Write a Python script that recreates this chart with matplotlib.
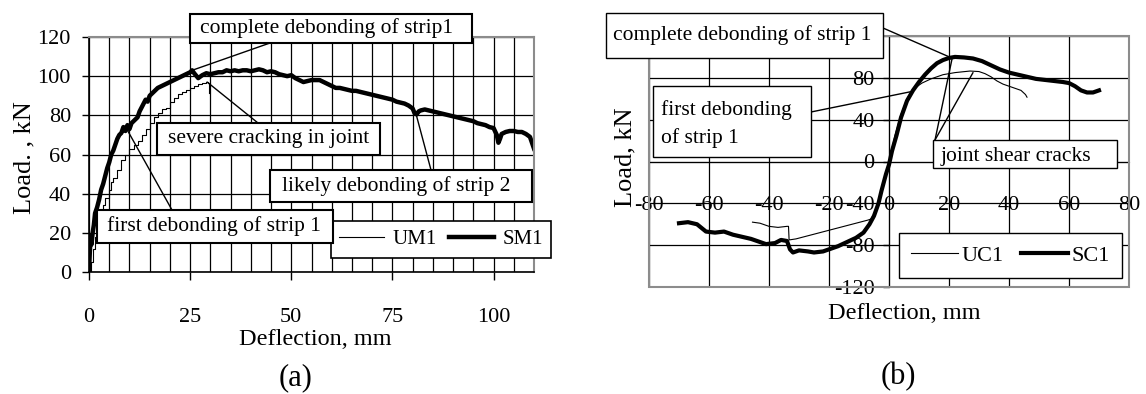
import matplotlib
matplotlib.use('Agg')
import matplotlib.pyplot as plt
from matplotlib.patches import Rectangle
from matplotlib.ticker import MultipleLocator

plt.rcParams['font.family'] = ['Liberation Serif', 'DejaVu Serif']
plt.rcParams['axes.unicode_minus'] = False

# (a) monotonic tests: deflection (mm) vs load (kN)
um1_defl = [0, 0.5, 1.0, 1.5, 2.0, 2.5, 3.0, 3.5, 4.0, 5.0, 5.5, 6.0, 7.0, 8.0, 9.0, 10.0,
            11.0, 12.0, 13.0, 14.0, 15.0, 16.0, 17.0, 18.0, 19.0, 20.0, 21.0, 22.0, 23.0,
            24.0, 25.0, 26.0, 27.0, 28.0, 29.0, 29.5, 29.6, 29.7]
um1_load = [0, 5, 12, 18, 22, 27, 30, 34, 38, 42, 46, 48, 52, 57, 60, 63,
            65, 67, 70, 73, 76, 79, 81, 83, 84, 87, 89, 91, 92,
            93, 94, 95, 96, 96.5, 97, 96.5, 92, 91.5]

sm1_defl = [0, 0.2, 0.4, 0.6, 0.9, 1.2, 1.5, 2.0, 2.5, 3.0, 3.5, 4.0, 4.5, 5.0, 5.5, 6.0,
            6.5, 7.0, 7.5, 8.0, 8.5, 9.0, 9.5, 10.0, 10.5, 11.0, 12.0, 12.5, 13.0, 13.5,
            14.0, 14.5, 15.0, 16.0, 17.0, 18.0, 19.0, 20.0, 21.0, 22.0, 23.0, 24.0, 25.0,
            25.5, 26.0, 27.0, 28.0, 29.0, 30.0, 31.0, 32.0, 33.0, 34.0, 35.0, 36.0, 37.0,
            38.0, 39.0, 40.0, 41.0, 42.0, 43.0, 44.0, 45.0, 46.0, 47.0, 48.0, 49.0, 50.0,
            51.0, 52.0, 53.0, 54.0, 55.0, 56.0, 57.0, 58.0, 59.0, 60.0, 61.0, 62.0, 63.0,
            64.0, 65.0, 66.0, 67.0, 68.0, 69.0, 70.0, 71.0, 72.0, 73.0, 74.0, 75.0, 76.0,
            77.0, 78.0, 79.0, 80.0, 80.5, 81.0, 81.5, 82.0, 83.0, 84.0, 85.0, 86.0, 87.0,
            88.0, 89.0, 90.0, 91.0, 92.0, 93.0, 94.0, 95.0, 96.0, 97.0, 98.0, 99.0, 100.0,
            100.8, 101.2, 101.6, 102.0, 103.0, 104.0, 105.0, 106.0, 107.0, 108.0, 109.0,
            109.5, 110.0]
sm1_load = [0, 10, 18, 14, 20, 24, 30, 33, 37, 42, 45, 49, 53, 56, 60, 62,
            65, 68, 70, 71, 74, 72, 75, 73, 76, 77, 79, 82, 84, 86,
            88, 87, 90, 92, 94, 95, 96, 97, 98, 99, 100, 101, 102,
            103, 101.5, 99, 100.5, 101.5, 101, 101.5, 102, 102, 103, 102.5, 103, 102.5,
            103, 103, 102.5, 103, 103.5, 103, 102, 102.5, 102, 101, 100.5, 100, 100.5,
            99, 98, 97, 97.5, 98, 98, 98, 97, 96, 95, 94, 94, 93.5,
            93, 92.5, 92.5, 92, 91.5, 91, 90.5, 90, 89.5, 89, 88.5, 88, 87,
            86.5, 86, 85, 83.5, 81, 80.5, 82, 82.5, 83, 82.5, 82, 81.5, 81,
            80.5, 80, 79.5, 79, 78.5, 78, 77.5, 77, 76, 75.5, 75, 74, 73.5,
            70, 66, 68, 70.5, 71.5, 72, 72, 71.5, 71.5, 70.5, 69,
            66, 63]

# (b) cyclic tests
uc1_defl = [-45.5, -43, -40, -37, -34, -33.5, -33.3, -31, -7, -6, -4, -2, 0, 2, 4, 6, 8,
            11, 14, 18, 22, 27, 30, 32, 34, 36, 38, 41, 44, 45.5, 46]
uc1_load = [-58, -59, -62, -63, -62, -62, -75, -74, -56, -55, -45, -25, 0, 25, 45, 60, 69,
            75, 79, 83, 85, 86.5, 86, 84, 81, 77, 74, 71, 68, 64, 61.5]

sc1_defl = [-70, -67, -64, -61, -58, -55, -52, -49, -46, -43, -41, -38, -36, -34, -33, -32,
            -30, -27, -25, -22, -20, -17, -14, -11, -8.5, -6.5, -5, -3.5, -2.5, -1, 0, 1,
            2.5, 4, 6, 8, 10, 12, 14, 16, 18, 20, 22, 25, 28, 31, 34, 37, 40, 43, 46, 49,
            52, 55, 58, 60, 62, 64, 66, 68, 70]
sc1_load = [-59, -58, -60, -67, -68, -67, -70, -72, -74, -77, -79, -78, -75, -76, -84, -87,
            -85, -86, -87, -86, -84, -81, -77, -73, -68, -60, -52, -40, -28, -12, -3, 10,
            25, 42, 58, 68, 76, 83, 89, 94, 97, 99, 100, 99.5, 98.5, 96, 92, 88, 85, 83, 81, 79,
            78, 77, 76, 75, 72, 68, 66, 66, 68]

b_yticks = [-120, -80, -40, 0, 40, 80]

W, H = 1146, 394
fig = plt.figure(figsize=(W / 100, H / 100), dpi=100)


def px(x, y):
    # position measured on the reference (pixels, origin top left) -> figure fraction
    return x / W, 1 - y / H


def callout(ax, text, box, anchor, targets, tpos, lw=1.5, size=15.5, ha='center', **kw):
    x0, y0, x1, y1 = box
    fx0, fy1 = px(x0, y0)
    fx1, fy0 = px(x1, y1)
    for t in targets:
        ax.annotate('', xy=t, xycoords='data', xytext=px(*anchor), textcoords='figure fraction',
                    arrowprops=dict(arrowstyle='-', color='black', lw=1, shrinkA=0, shrinkB=0),
                    zorder=4, annotation_clip=False)
    ax.add_patch(Rectangle((fx0, fy0), fx1 - fx0, fy1 - fy0, transform=fig.transFigure,
                           fc='white', ec='black', lw=lw, zorder=6, clip_on=False))
    ax.text(*px(*tpos), text, transform=fig.transFigure, ha=ha, va='center',
            fontsize=size, zorder=7, **kw)


# ---- (a)
ax = fig.add_axes([89 / W, 1 - 272 / H, 445 / W, 235 / H])
ax.plot(um1_defl, um1_load, color='black', lw=0.8, drawstyle='steps-post', label='UM1')
ax.plot(sm1_defl, sm1_load, color='black', lw=3.2, label='SM1')
ax.set_xlim(0, 110)
ax.set_ylim(0, 120)
ax.xaxis.set_major_locator(MultipleLocator(25))
ax.xaxis.set_minor_locator(MultipleLocator(5))
ax.yaxis.set_major_locator(MultipleLocator(20))
ax.grid(axis='x', which='both', color='black', lw=0.9)
ax.grid(axis='y', which='major', color='black', lw=0.9)
ax.tick_params(axis='x', which='minor', length=0)
ax.tick_params(axis='x', which='major', direction='out', length=6, width=1, pad=20, labelsize=16)
ax.tick_params(axis='y', direction='out', length=5, width=1, pad=8, labelsize=16)
for s in ['top', 'right']:
    ax.spines[s].set_color('#8c8c8c')
    ax.spines[s].set_linewidth(1.5)
for s in ['left', 'bottom']:
    ax.spines[s].set_linewidth(1.2)
ax.set_xlabel('Deflection, mm', fontsize=17.5, va='center')
ax.xaxis.set_label_coords(0.508, -0.289)
ax.set_ylabel('Load. , kN', fontsize=19, va='center')
ax.yaxis.set_label_coords(-0.144, 0.485)

leg = ax.legend(ncol=2, loc='center', bbox_to_anchor=px(441, 239.5), bbox_transform=fig.transFigure,
                fontsize=15, fancybox=False, edgecolor='black', framealpha=1, handlelength=2.15,
                handletextpad=0.4, columnspacing=0.6, borderpad=0.4)
leg.get_frame().set_linewidth(1.2)
leg.set_zorder(5)

callout(ax, 'complete debonding of strip1', (190, 14, 472, 43), (270, 43), [(25.5, 103)], (326, 28))
callout(ax, 'severe cracking in joint', (157, 123, 380, 155), (258, 123), [(29.2, 97)], (269, 139))
callout(ax, 'likely debonding of strip 2', (270, 170, 532, 202), (431, 170), [(80.8, 81)], (396, 186))
callout(ax, 'first debonding of strip 1', (97, 210, 333, 243), (172, 210), [(9.6, 72)], (214, 226))

# ---- (b)
ax = fig.add_axes([649 / W, 1 - 287 / H, 480 / W, 251 / H])
ax.plot(uc1_defl, uc1_load, color='black', lw=0.8, label='UC1')
ax.plot(sc1_defl, sc1_load, color='black', lw=3.0, label='SC1')
ax.set_xlim(-80, 80)
ax.set_ylim(-120, 120)
ax.xaxis.set_major_locator(MultipleLocator(20))
ax.set_yticks(b_yticks)
ax.axhline(120, color='black', lw=0.9, zorder=1.5)
ax.grid(color='black', lw=0.9)
ax.spines['left'].set_position(('data', 0))
ax.spines['bottom'].set_position(('data', 0))
for s in ['top', 'right']:
    ax.spines[s].set_visible(False)
ax.add_patch(Rectangle((0, 0), 1, 1, transform=ax.transAxes, fill=False, ec='#8c8c8c',
                       lw=1.5, zorder=2.6, clip_on=False))
ax.tick_params(axis='x', length=0, pad=25, labelsize=16)
ax.tick_params(axis='y', direction='out', length=4.5, width=1, pad=6, labelsize=16)
ax.set_xlabel('Deflection, mm', fontsize=17.5, va='center')
ax.xaxis.set_label_coords(0.531, -0.104)
ax.set_ylabel('Load, kN', fontsize=19, va='center')
ax.yaxis.set_label_coords(-0.05, 0.518)

leg = ax.legend(ncol=2, loc='center', bbox_to_anchor=px(1010.5, 255.5), bbox_transform=fig.transFigure,
                fontsize=16, fancybox=False, edgecolor='black', framealpha=1, handlelength=2.1,
                handletextpad=0.15, columnspacing=0.8, borderpad=0.55)
leg.get_frame().set_linewidth(1.0)
leg.set_zorder(5)

callout(ax, 'complete debonding of strip 1', (606, 13, 883, 58), (883, 28), [(20.5, 99.5)],
        (742, 35), lw=1.0)
callout(ax, 'first debonding\nof strip 1', (653, 86, 811, 157), (811, 112), [(7.7, 67)],
        (661, 124), lw=1.0, ha='left', linespacing=1.6)
callout(ax, 'joint shear cracks', (933, 140, 1117, 168), (935, 140), [(21, 98), (28, 85)],
        (1016, 156), lw=1.0)

fig.text(*px(296, 378), '(a)', fontsize=22, ha='center', va='center')
fig.text(*px(898, 377), '(b)', fontsize=22, ha='center', va='center')

fig.savefig('out.png', dpi=100)
